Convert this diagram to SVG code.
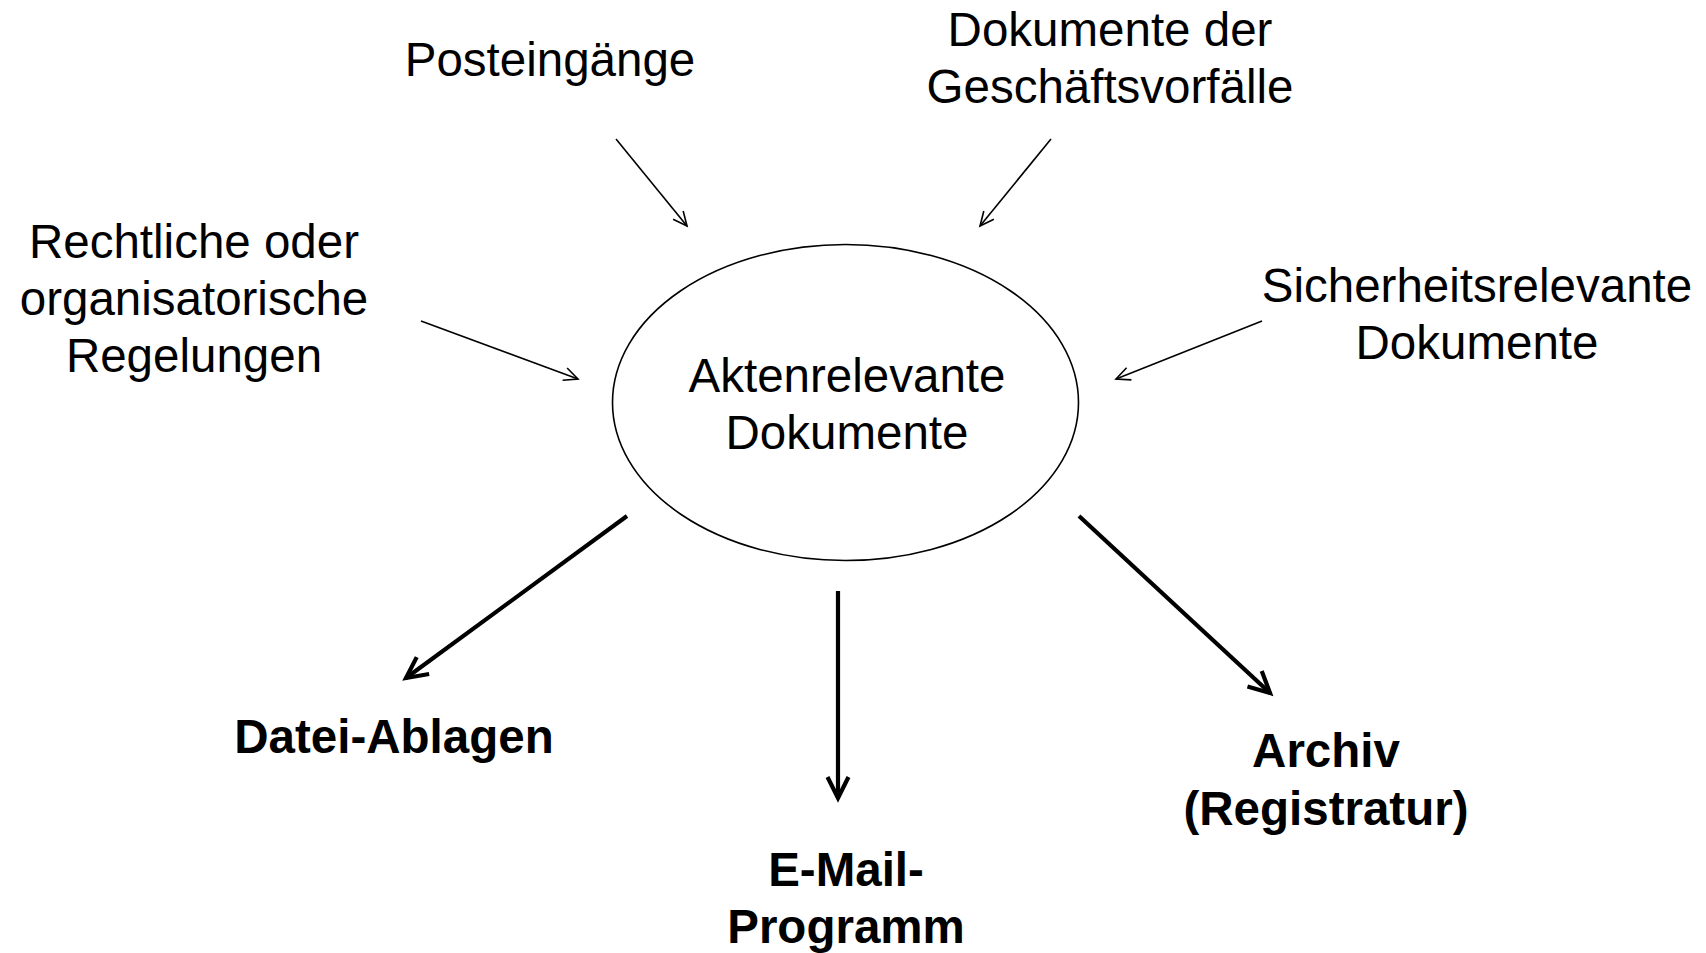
<svg xmlns="http://www.w3.org/2000/svg" width="1706" height="953" viewBox="0 0 1706 953">
<style>
text{font-family:"Liberation Sans",Arial,sans-serif;font-size:47.5px;fill:#000;text-anchor:middle}
.b{font-weight:bold}
.thin{stroke:#000;stroke-width:1.6;fill:none}
.thick{stroke:#000;stroke-width:4.2;fill:none}
</style>
<defs>
<marker id="ah" markerUnits="userSpaceOnUse" markerWidth="20" markerHeight="20" viewBox="0 0 20 20" refX="16" refY="10" orient="auto">
<path d="M2,3.5 L16,10 L2,16.5" fill="none" stroke="#000" stroke-width="1.6"/>
</marker>
<marker id="ahb" markerUnits="userSpaceOnUse" markerWidth="30" markerHeight="30" viewBox="0 0 30 30" refX="25" refY="15" orient="auto">
<path d="M4,4.5 L25,15 L4,25.5" fill="none" stroke="#000" stroke-width="4.2" stroke-linejoin="miter"/>
</marker>
</defs>
<rect width="1706" height="953" fill="#fff"/>
<g id="center">
<ellipse cx="845.5" cy="402.5" rx="233" ry="158" fill="none" stroke="#000" stroke-width="1.6"/>
<text x="847" y="392">Aktenrelevante</text>
<text x="847" y="449">Dokumente</text>
</g>
<g id="posteingaenge"><text x="550" y="76">Posteingänge</text></g>
<g id="geschaeftsvorfaelle"><text x="1110" y="46">Dokumente der</text><text x="1110" y="103">Geschäftsvorfälle</text></g>
<g id="regelungen"><text x="194" y="258">Rechtliche oder</text><text x="194" y="315">organisatorische</text><text x="194" y="372">Regelungen</text></g>
<g id="sicherheit"><text x="1477" y="302">Sicherheitsrelevante</text><text x="1477" y="359">Dokumente</text></g>
<g id="dateiablagen"><text class="b" x="394" y="753">Datei-Ablagen</text></g>
<g id="email"><text class="b" x="846" y="886">E-Mail-</text><text class="b" x="846" y="943">Programm</text></g>
<g id="archiv"><text class="b" x="1326" y="767">Archiv</text><text class="b" x="1326" y="825">(Registratur)</text></g>
<g id="connectors">
<line class="thin" x1="616" y1="139" x2="687" y2="226" marker-end="url(#ah)"/>
<line class="thin" x1="1051" y1="139" x2="980" y2="226" marker-end="url(#ah)"/>
<line class="thin" x1="421" y1="321" x2="578" y2="379" marker-end="url(#ah)"/>
<line class="thin" x1="1262" y1="321" x2="1116" y2="379" marker-end="url(#ah)"/>
<line class="thick" x1="627" y1="516" x2="406" y2="678" marker-end="url(#ahb)"/>
<line class="thick" x1="1079" y1="516" x2="1270" y2="693" marker-end="url(#ahb)"/>
<line class="thick" x1="838" y1="591" x2="838" y2="798" marker-end="url(#ahb)"/>
</g>
</svg>
